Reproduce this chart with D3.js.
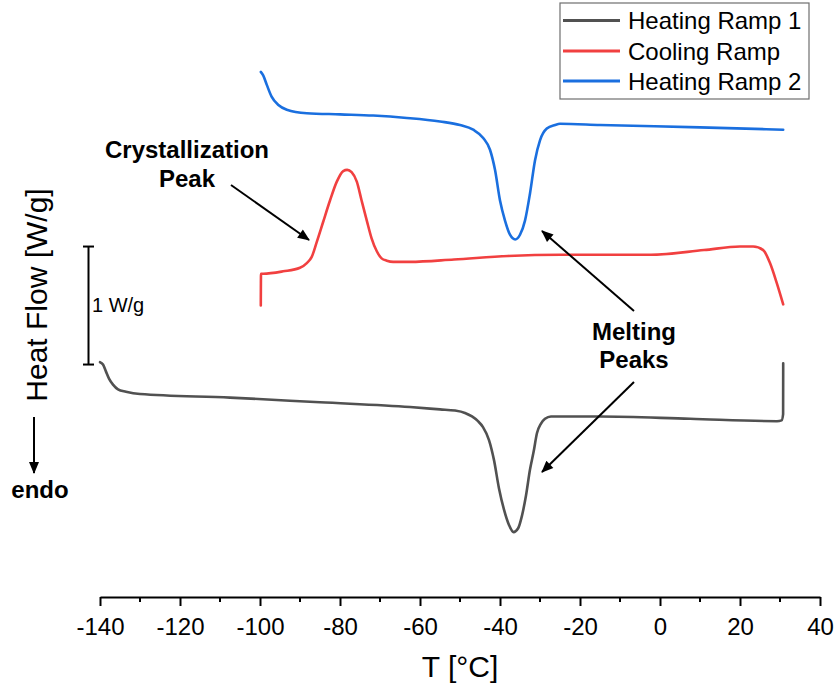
<!DOCTYPE html>
<html>
<head>
<meta charset="utf-8">
<script src="https://cdn.jsdelivr.net/npm/d3@7"></script>
<style>
  html, body { margin: 0; padding: 0; background: #fff; }
  svg { display: block; font-family: "Liberation Sans", Arial, sans-serif; }
</style>
</head>
<body>
<svg id="chart" width="839" height="693"></svg>
<script>
// DSC thermogram: heat flow (W/g, curves stacked) vs temperature (°C)

const seriesNames = ["Heating Ramp 1", "Cooling Ramp", "Heating Ramp 2"];
const seriesColors = ["#515151", "#F14040", "#1A6FDF"];

// Heating ramp 1: temperature and heat flow
const heat1T = [-140, -139.25, -138.5, -137.75, -136.75, -135.5, -133.5, -130, -107.5, -85, -62.5, -55, -51.25,
  -48.75, -47, -45.5, -44.25, -42.75, -41.5, -40.25, -39, -37.75, -36.6, -35.5, -34.5, -33.5, -32.5, -31.6,
  -30.75, -29.75, -28.75, -27.25, -15, 7.5, 29.25, 30.4, 30.78, 30.8];
const heat1HF = [1.99, 1.97, 1.91, 1.85, 1.80, 1.76, 1.74, 1.72, 1.69, 1.65, 1.61, 1.59, 1.58,
  1.56, 1.53, 1.49, 1.44, 1.33, 1.16, 0.92, 0.74, 0.61, 0.55, 0.58, 0.69, 0.86, 1.08, 1.23,
  1.39, 1.47, 1.51, 1.53, 1.53, 1.51, 1.49, 1.497, 1.55, 1.98];

// Cooling ramp
const coolT = [-99.8, -99.75, -99.2, -94.2, -90, -88.3, -87.1, -85.8, -84.2, -82.5, -80.8, -79.2, -78.2, -77.1,
  -75.8, -74.6, -73.3, -72.1, -70.8, -69.6, -68.3, -66.7, -62.5, -51.5, -38, -24.75, -2.25, 11, 20, 23.3, 25.8,
  27.5, 29.2, 30.8];
const coolHF = [2.47, 2.74, 2.74, 2.76, 2.79, 2.83, 2.88, 3.01, 3.18, 3.36, 3.52, 3.61, 3.62, 3.60,
  3.52, 3.36, 3.19, 3.04, 2.93, 2.87, 2.85, 2.84, 2.84, 2.86, 2.89, 2.90, 2.90, 2.94, 2.97, 2.97, 2.94,
  2.83, 2.66, 2.48];

// Heating ramp 2
const heat2T = [-99.8, -99.2, -98.3, -97.1, -95.4, -93.3, -88.3, -80, -71.7, -63.3, -55, -50, -46.7, -44.2, -42.5,
  -41.25, -40, -38.75, -37.5, -36.2, -35, -33.75, -32.5, -31.25, -30, -28.3, -26.25, -25, -15, 10, 30.8];
const heat2HF = [4.45, 4.42, 4.34, 4.24, 4.17, 4.13, 4.10, 4.09, 4.08, 4.06, 4.03, 4.00, 3.96, 3.89, 3.79,
  3.62, 3.36, 3.19, 3.07, 3.03, 3.07, 3.19, 3.42, 3.70, 3.87, 3.97, 4.00, 4.01, 4.00, 3.98, 3.96];

const majorTicks = [-140, -120, -100, -80, -60, -40, -20, 0, 20, 40];
const minorTicks = [-130, -110, -90, -70, -50, -30, -10, 10, 30];

// Scale bar (W/g)
const scaleBarBase = 1.97;
const scaleBarLength = 1;
const scaleBarLabel = "1 W/g";

const svg = d3.select("#chart");
const x = d3.scaleLinear().domain([-140, 40]).range([100, 820]);
const y = d3.scaleLinear().domain([0, 5]).range([597, 7]);

const series = [
  { name: seriesNames[0], color: seriesColors[0], pts: d3.zip(heat1T, heat1HF) },
  { name: seriesNames[1], color: seriesColors[1], pts: d3.zip(coolT, coolHF) },
  { name: seriesNames[2], color: seriesColors[2], pts: d3.zip(heat2T, heat2HF) }
];

const line = d3.line()
  .x(d => x(d[0]))
  .y(d => y(d[1]))
  .curve(d3.curveMonotoneX);

svg.append("g").selectAll("path")
  .data(series)
  .join("path")
  .attr("d", d => line(d.pts))
  .attr("fill", "none")
  .attr("stroke", d => d.color)
  .attr("stroke-width", 2.6)
  .attr("stroke-linejoin", "round")
  .attr("stroke-linecap", "round");

// Bottom axis
const axisG = svg.append("g").attr("transform", `translate(0,${y(0)})`)
  .call(d3.axisBottom(x).tickValues(majorTicks).tickSize(9).tickSizeOuter(0)
    .tickFormat(d3.format("d")));
axisG.select(".domain").attr("stroke", "#000").attr("stroke-width", 2);
axisG.selectAll(".tick line").attr("stroke", "#000").attr("stroke-width", 2);
axisG.selectAll(".tick text")
  .attr("y", 38).attr("dy", null)
  .attr("font-size", 24).attr("font-family", "Liberation Sans, Arial, sans-serif")
  .attr("fill", "#000")
  .text(d => d < 0 ? "-" + Math.abs(d) : d);
axisG.selectAll(".minor").data(minorTicks).join("line")
  .attr("class", "minor")
  .attr("x1", d => x(d)).attr("x2", d => x(d))
  .attr("y1", 0).attr("y2", 5)
  .attr("stroke", "#000").attr("stroke-width", 2);

// Axis titles
svg.append("text").attr("x", 460).attr("y", 677).attr("text-anchor", "middle")
  .attr("font-size", 30).text("T [°C]");
svg.append("text").attr("transform", "translate(47,295) rotate(-90)")
  .attr("text-anchor", "middle").attr("font-size", 30).text("Heat Flow [W/g]");

// Arrow markers
const defs = svg.append("defs");
defs.append("marker").attr("id", "head")
  .attr("viewBox", "0 0 12 10").attr("refX", 11).attr("refY", 5)
  .attr("markerUnits", "userSpaceOnUse")
  .attr("markerWidth", 13).attr("markerHeight", 10)
  .attr("orient", "auto")
  .append("path").attr("d", "M0,0 L12,5 L0,10 Z").attr("fill", "#000");

// endo arrow
svg.append("line").attr("x1", 34).attr("y1", 417).attr("x2", 34).attr("y2", 473)
  .attr("stroke", "#000").attr("stroke-width", 2).attr("marker-end", "url(#head)");
svg.append("text").attr("x", 40).attr("y", 498).attr("text-anchor", "middle")
  .attr("font-size", 24).attr("font-weight", "bold").text("endo");

// Scale bar
const sbTop = y(scaleBarBase + scaleBarLength), sbBot = y(scaleBarBase);
const sb = svg.append("g").attr("stroke", "#000").attr("stroke-width", 2);
sb.append("line").attr("x1", 88.5).attr("x2", 88.5).attr("y1", sbTop).attr("y2", sbBot);
sb.append("line").attr("x1", 83).attr("x2", 94).attr("y1", sbTop).attr("y2", sbTop);
sb.append("line").attr("x1", 83).attr("x2", 94).attr("y1", sbBot).attr("y2", sbBot);
svg.append("text").attr("x", 92).attr("y", 312).attr("font-size", 20).text(scaleBarLabel);

// Annotations
const ann = svg.append("g").attr("font-size", 24).attr("font-weight", "bold").attr("text-anchor", "middle");
ann.append("text").attr("x", 187).attr("y", 158).text("Crystallization");
ann.append("text").attr("x", 187).attr("y", 187).text("Peak");
ann.append("text").attr("x", 634).attr("y", 340).text("Melting");
ann.append("text").attr("x", 634).attr("y", 368).text("Peaks");

const arrows = [
  [231, 185, 309, 240],
  [634, 311, 542, 231],
  [634, 382, 542, 472]
];
svg.append("g").selectAll("line").data(arrows).join("line")
  .attr("x1", d => d[0]).attr("y1", d => d[1]).attr("x2", d => d[2]).attr("y2", d => d[3])
  .attr("stroke", "#000").attr("stroke-width", 2).attr("marker-end", "url(#head)");

// Legend
const lg = svg.append("g");
lg.append("rect").attr("x", 560).attr("y", 3).attr("width", 249).attr("height", 96)
  .attr("fill", "#fff").attr("stroke", "#6e6e6e").attr("stroke-width", 1.2);
const rowsY = [20.5, 51, 81];
series.forEach((s, i) => {
  lg.append("line").attr("x1", 563).attr("x2", 620).attr("y1", rowsY[i]).attr("y2", rowsY[i])
    .attr("stroke", s.color).attr("stroke-width", 3);
  lg.append("text").attr("x", 628).attr("y", rowsY[i] + 8.7).attr("font-size", 24).text(s.name);
});
</script>
</body>
</html>
